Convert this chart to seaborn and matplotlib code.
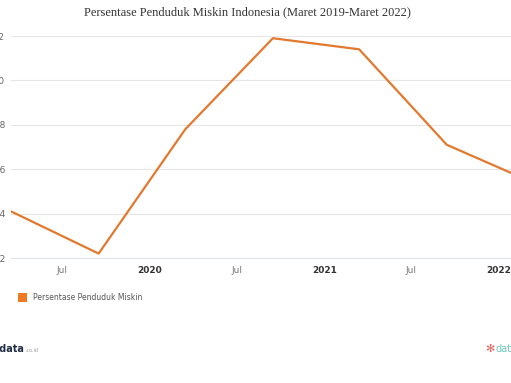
import pandas as pd
import matplotlib
matplotlib.use("Agg")
import matplotlib.pyplot as plt
import seaborn as sns

# poverty rate, March / September releases
periods = ["2019-03-15", "2019-09-15", "2020-03-15", "2020-09-15",
           "2021-03-15", "2021-09-15", "2022-03-15"]
persen = [9.41, 9.22, 9.78, 10.19, 10.14, 9.71, 9.54]
y_ticks = [9.2, 9.4, 9.6, 9.8, 10.0, 10.2]
x_ticks = ["2019-07-01", "2020-01-01", "2020-07-01", "2021-01-01", "2021-07-01", "2022-01-01"]
x_labels = ["Jul", "2020", "Jul", "2021", "Jul", "2022"]
series_name = "Persentase Penduduk Miskin"

df = pd.DataFrame({"periode": pd.to_datetime(periods), "persen": persen})

sns.set_style("white")
line_col = "#e2792f"

fig = plt.figure(figsize=(5.11, 3.83), dpi=100)
# the chart is cropped on the right, so the axes run past the figure edge
ax = fig.add_axes([11 / 511, 125 / 383, 522 / 511, 222 / 383])

sns.lineplot(data=df, x="periode", y="persen", ax=ax, color=line_col,
             linewidth=1.6, legend=False)

ax.set_xlim(df["periode"].min(), df["periode"].max())
ax.set_ylim(9.2, 10.2)
ax.set_yticks(y_ticks)
ax.set_yticklabels([f"{v:.1f}" for v in y_ticks], fontsize=6.5, color="#666666")
ax.set_xticks(pd.to_datetime(x_ticks))
ax.set_xticklabels(x_labels, fontsize=6.5)
for lab in ax.get_xticklabels():
    if lab.get_text() == "Jul":
        lab.set_color("#777777")
    else:
        lab.set_color("#333333")
        lab.set_fontweight("bold")
ax.tick_params(axis="both", length=0)
ax.tick_params(axis="y", pad=4)
ax.tick_params(axis="x", pad=6)

ax.grid(axis="y", color="#e6e6e6", linewidth=0.8)
ax.set_axisbelow(True)
for s in ["top", "right", "left"]:
    ax.spines[s].set_visible(False)
ax.spines["bottom"].set_color("#dfe3ea")
ax.spines["bottom"].set_linewidth(0.8)
ax.set_xlabel("")
ax.set_ylabel("")

fig.text(247 / 511, 1 - 12 / 383, "Persentase Penduduk Miskin Indonesia (Maret 2019-Maret 2022)",
         ha="center", va="center", fontsize=9, family="Liberation Serif", color="#333333")

# legend
fig.patches.append(plt.Rectangle((18 / 511, 1 - 302 / 383), 9 / 511, 9 / 383,
                                 transform=fig.transFigure, facecolor="#f07a22",
                                 edgecolor="none"))
fig.text(33 / 511, 1 - 297 / 383, series_name, ha="left", va="center",
         fontsize=5.5, color="#555555")

# footer logos
fig.text(24 / 511, 1 - 349 / 383, "katadata", ha="right", va="center",
         fontsize=7, fontweight="bold", color="#1f2a44")
fig.text(25 / 511, 1 - 350 / 383, ".co.id", ha="left", va="center",
         fontsize=3.5, color="#999999")
fig.text(485 / 511, 1 - 349 / 383, "\u273b", ha="left", va="center",
         fontsize=8, color="#e0605a")
fig.text(496 / 511, 1 - 349 / 383, "databoks", ha="left", va="center",
         fontsize=7, color="#6cc7c0")

plt.savefig("out.png", dpi=100)
